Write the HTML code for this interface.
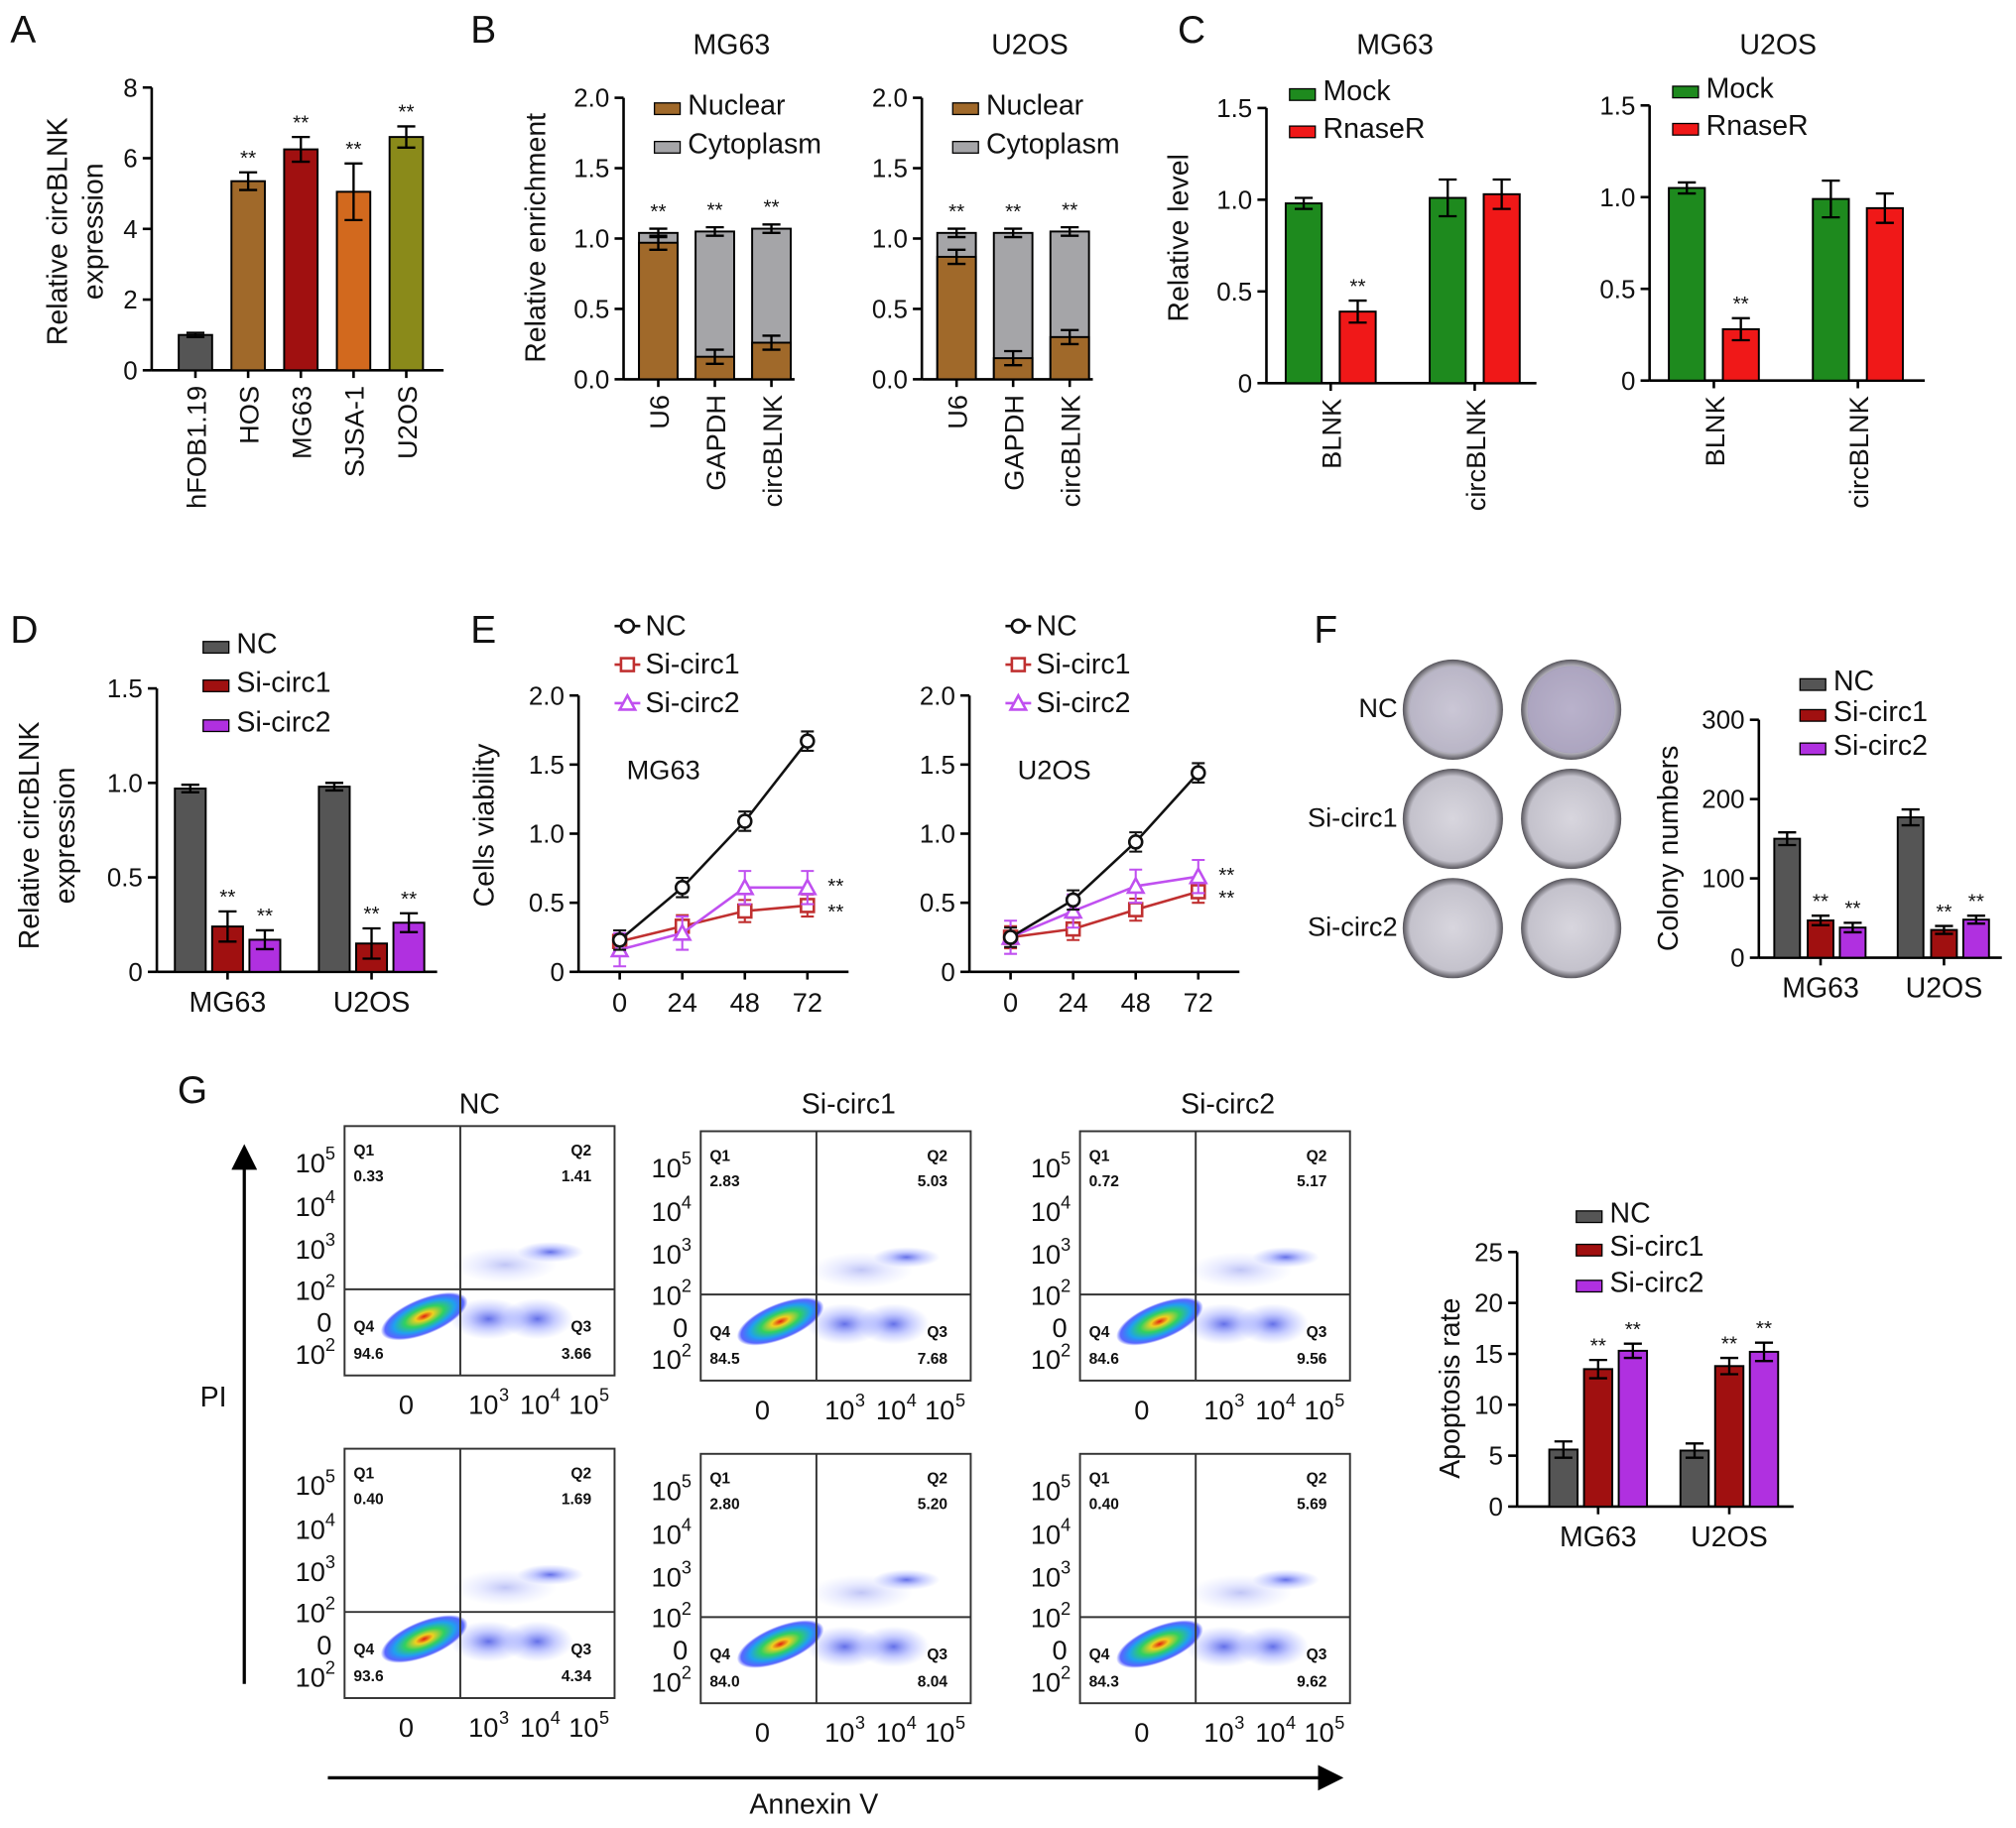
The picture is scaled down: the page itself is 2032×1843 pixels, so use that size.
<!DOCTYPE html>
<html><head><meta charset="utf-8"><style>
html,body{margin:0;padding:0;background:#fff;}
svg{display:block;font-family:"Liberation Sans",Arial,sans-serif;}
</style></head><body>
<svg id="fig" width="2032" height="1843" viewBox="0 0 1568 1422" xmlns="http://www.w3.org/2000/svg">
<defs>
<radialGradient id="blob" cx="50%" cy="50%" r="50%">
<stop offset="0" stop-color="#e02010"/><stop offset="0.2" stop-color="#f0d020"/><stop offset="0.45" stop-color="#30d060"/><stop offset="0.7" stop-color="#20a0f0"/><stop offset="0.9" stop-color="#3040ff" stop-opacity="0.8"/><stop offset="1" stop-color="#3040ff" stop-opacity="0"/>
</radialGradient>
<radialGradient id="faint" cx="50%" cy="50%" r="50%">
<stop offset="0" stop-color="#3040e0" stop-opacity="0.75"/><stop offset="0.5" stop-color="#6070ff" stop-opacity="0.35"/><stop offset="1" stop-color="#8090ff" stop-opacity="0"/>
</radialGradient>
<radialGradient id="dish" cx="50%" cy="50%" r="50%">
<stop offset="0" stop-color="#d8d6de"/><stop offset="0.85" stop-color="#c4c2cc"/><stop offset="0.93" stop-color="#8a8890"/><stop offset="1" stop-color="#55535a"/>
</radialGradient>
<marker id="arr" markerWidth="8" markerHeight="8" refX="4" refY="4" orient="auto" markerUnits="strokeWidth"><path d="M0,0 L8,4 L0,8 z" fill="#000"/></marker>
</defs>
</svg>
<script>
// ---------- DATA ----------
const aCats=["hFOB1.19","HOS","MG63","SJSA-1","U2OS"];
const aVals=[1.0,5.35,6.25,5.05,6.6];
const aErr=[0.06,0.25,0.35,0.8,0.3];
const bCats=["U6","GAPDH","circBLNK"];
const bMGNuc=[0.97,0.16,0.26];const bMGTot=[1.04,1.05,1.07];
const bUNuc=[0.87,0.15,0.30];const bUTot=[1.04,1.04,1.05];
const cCats=["BLNK","circBLNK"];
const cMGMock=[0.98,1.01];const cMGRn=[0.39,1.03];
const cUMock=[1.05,0.99];const cURn=[0.28,0.94];
const groups=["MG63","U2OS"];
const dNC=[0.97,0.98];const dS1=[0.24,0.15];const dS2=[0.17,0.26];
const eX=[0,24,48,72];
const eMGNC=[0.23,0.61,1.09,1.67];const eMGS1=[0.22,0.33,0.44,0.48];const eMGS2=[0.16,0.28,0.61,0.61];
const eUNC=[0.25,0.52,0.94,1.44];const eUS1=[0.25,0.31,0.45,0.58];const eUS2=[0.25,0.44,0.62,0.69];
const fNC=[150,177];const fS1=[47,35];const fS2=[38,48];
const gNC=[5.6,5.5];const gS1=[13.5,13.8];const gS2=[15.3,15.2];
const flowTitles=["NC","Si-circ1","Si-circ2"];
const flowQ=[[["0.33","1.41","94.6","3.66"],["2.83","5.03","84.5","7.68"],["0.72","5.17","84.6","9.56"]],
             [["0.40","1.69","93.6","4.34"],["2.80","5.20","84.0","8.04"],["0.40","5.69","84.3","9.62"]]];

// ---------- HELPERS ----------
const NS="http://www.w3.org/2000/svg";const svg=document.getElementById('fig');
function mk(tag,at,p){const e=document.createElementNS(NS,tag);for(const k in at)e.setAttribute(k,at[k]);(p||svg).appendChild(e);return e;}
function txt(s,x,y,size,anchor,p,extra){const e=mk('text',Object.assign({x:x,y:y,'font-size':size,'text-anchor':anchor||'middle',fill:'#111'},extra||{}),p);e.textContent=s;return e;}
function yAxis(g,x,y0,k,ticks,yTopV,fmt){
  mk('line',{x1:x,y1:y0,x2:x,y2:y0-yTopV*k,stroke:'#000','stroke-width':2},g);
  ticks.forEach(t=>{const y=y0-t*k;mk('line',{x1:x-7,y1:y,x2:x,y2:y,stroke:'#000','stroke-width':2},g);
    const l=txt(fmt?fmt(t):String(t),x-11,y+7,20,'end',g);});
}
function xLine(g,x1,x2,y){mk('line',{x1:x1,y1:y,x2:x2,y2:y,stroke:'#000','stroke-width':2},g);}
function bar(g,cx,w,y0,k,v,col,name){const b=mk('rect',{x:cx-w/2,y:y0-v*k,width:w,height:v*k,fill:col,stroke:'#000','stroke-width':1.5},g);
  return b;}
function err(g,cx,y0,k,v,e){const w=7;mk('path',{d:`M${cx},${y0-(v-e)*k}V${y0-(v+e)*k}M${cx-w},${y0-(v+e)*k}h${2*w}M${cx-w},${y0-(v-e)*k}h${2*w}`,stroke:'#000','stroke-width':1.8,fill:'none'},g);}
function star(g,cx,y){txt('**',cx,y,16,'middle',g);}
function legendBox(g,x,y,col,label,size){mk('rect',{x:x,y:y-9,width:20,height:9,fill:col,stroke:'#000','stroke-width':1},g);
  const t=txt(label,x+26,y,size||22,'start',g);}
function rotLabel(g,s,x,y,size,ang){const t=txt(s,x,y,size,'end',g,{transform:`rotate(${ang||-90} ${x} ${y})`});return t;}
function grp(name){const g=mk('g',{});return g;}
function letter(s,x,y){const t=txt(s,x,y,30,'start');}

// ---------- A ----------
letter('A',8,33);
(function(){const g=grp('panel-a-chart');const y0=288,k=27.5;
  yAxis(g,118,y0,k,[0,2,4,6,8],8);xLine(g,118,345,y0);
  const cols=['#555','#a0692a','#a01010','#d2691e','#8a8a1a'];
  aCats.forEach((c,i)=>{const cx=152+i*41;bar(g,cx,26,y0,k,aVals[i],cols[i],'bar-'+c);err(g,cx,y0,k,aVals[i],aErr[i]);
    if(i>0)star(g,cx,y0-(aVals[i]+aErr[i])*k-6);
    mk('line',{x1:cx,y1:y0,x2:cx,y2:y0+6,stroke:'#000','stroke-width':2},g);
    rotLabel(g,c,cx+8,y0+12,21);});
  txt('Relative circBLNK',0,0,22,'middle',g,{transform:'translate(52,180) rotate(-90)'});
  txt('expression',0,0,22,'middle',g,{transform:'translate(80,180) rotate(-90)'});
})();

// ---------- B ----------
letter('B',366,33);
function panelB(x0,nuc,tot,title){const g=grp('panel-b-'+title);const y0=295,k=109.5;
  yAxis(g,x0,y0,k,[0,0.5,1,1.5,2],2,t=>t.toFixed(1));xLine(g,x0,x0+133,y0);
  bCats.forEach((c,i)=>{const cx=x0+27+i*44;bar(g,cx,30,y0,k,tot[i],'#a5a5a8','bar-cytoplasm-'+c);
    bar(g,cx,30,y0,k,nuc[i],'#a0692a','bar-nuclear-'+c);
    err(g,cx,y0,k,tot[i],0.03);err(g,cx,y0,k,nuc[i],0.05);star(g,cx,y0-(tot[i]+0.05)*k-6);
    mk('line',{x1:cx,y1:y0,x2:cx,y2:y0+6,stroke:'#000','stroke-width':2},g);rotLabel(g,c,cx+8,y0+12,21);});
  txt(title,x0+84,42,22,'middle',g);
  legendBox(g,x0+24,89,'#a0692a','Nuclear');legendBox(g,x0+24,119,'#a5a5a8','Cytoplasm');}
panelB(485,bMGNuc,bMGTot,'MG63');panelB(717,bUNuc,bUTot,'U2OS');
txt('Relative enrichment',0,0,22,'middle',svg,{transform:'translate(424,185) rotate(-90)'});

// ---------- C ----------
letter('C',916,33);
function panelC(x0,y0,mock,rn,title,ly,x1){const g=grp('panel-c-'+title);const k=142.7;
  yAxis(g,x0,y0,k,[0,0.5,1,1.5],1.5,t=>t===0?'0':t.toFixed(1));xLine(g,x0,x1,y0);
  cCats.forEach((c,i)=>{const cx=x0+50+i*112;bar(g,cx-21,28,y0,k,mock[i],'#1e8a1e','bar-mock-'+c);bar(g,cx+21,28,y0,k,rn[i],'#f01818','bar-rnaser-'+c);
    err(g,cx-21,y0,k,mock[i],i?0.1:0.03);err(g,cx+21,y0,k,rn[i],i?0.08:0.06);
    if(i===0)star(g,cx+21,y0-(rn[i]+0.06)*k-6);
    mk('line',{x1:cx,y1:y0,x2:cx,y2:y0+6,stroke:'#000','stroke-width':2},g);rotLabel(g,c,cx+8,y0+12,21);});
  txt(title,x0+100,42,22,'middle',g);
  legendBox(g,x0+18,ly,'#1e8a1e','Mock');legendBox(g,x0+18,ly+29,'#f01818','RnaseR');}
panelC(985,298,cMGMock,cMGRn,'MG63',78,1195);panelC(1283,296,cUMock,cURn,'U2OS',76,1497);
txt('Relative level',0,0,22,'middle',svg,{transform:'translate(924,185) rotate(-90)'});

// ---------- D ----------
letter('D',8,500);
(function(){const g=grp('panel-d-chart');const y0=756,k=147;
  yAxis(g,122,y0,k,[0,0.5,1,1.5],1.5,t=>t===0?'0':t.toFixed(1));xLine(g,122,340,y0);
  const e1=[0.02,0.02],e2=[0.08,0.08],e3=[0.05,0.05];
  groups.forEach((c,i)=>{const cx=177+i*112;
    bar(g,cx-29,24,y0,k,dNC[i],'#555','bar-nc-'+c);bar(g,cx,24,y0,k,dS1[i],'#a01010','bar-si1-'+c);bar(g,cx+29,24,y0,k,dS2[i],'#b030e0','bar-si2-'+c);
    err(g,cx-29,y0,k,dNC[i],e1[i]);err(g,cx,y0,k,dS1[i],e2[i]);err(g,cx+29,y0,k,dS2[i],e3[i]);
    star(g,cx,y0-(dS1[i]+e2[i])*k-6);star(g,cx+29,y0-(dS2[i]+e3[i])*k-6);
    mk('line',{x1:cx,y1:y0,x2:cx,y2:y0+6,stroke:'#000','stroke-width':2},g);txt(c,cx,y0+31,22,'middle',g);});
  legendBox(g,158,508,'#555','NC');legendBox(g,158,538,'#a01010','Si-circ1');legendBox(g,158,569,'#b030e0','Si-circ2');
  txt('Relative circBLNK',0,0,22,'middle',g,{transform:'translate(30,650) rotate(-90)'});
  txt('expression',0,0,22,'middle',g,{transform:'translate(58,650) rotate(-90)'});
})();

// ---------- E ----------
letter('E',366,500);
function panelE(ax,x0,nc,s1,s2,title){const g=grp('panel-e-'+title);const y0=756,k=107.5,kx=146/72;
  yAxis(g,ax,y0,k,[0,0.5,1,1.5,2],2,t=>t===0?'0':t.toFixed(1));xLine(g,ax,ax+210,y0);
  const X=v=>x0+v*kx,Y=v=>y0-v*k;
  eX.forEach(t=>{mk('line',{x1:X(t),y1:y0,x2:X(t),y2:y0+6,stroke:'#000','stroke-width':2},g);const l=txt(String(t),X(t),y0+31,21,'middle',g);});
  const series=[[s1,'#c03030','sq',0.08],[s2,'#c050f0','tri',0.12],[nc,'#111','circ',0.07]];
  series.forEach(([d,col,m,e])=>{const pl=mk('polyline',{points:d.map((v,i)=>X(eX[i])+','+Y(v)).join(' '),fill:'none',stroke:col,'stroke-width':2},g);
    
    d.forEach((v,i)=>{const cx=X(eX[i]),cy=Y(v);mk('path',{d:`M${cx},${Y(v-e)}V${Y(v+e)}M${cx-5},${Y(v+e)}h10M${cx-5},${Y(v-e)}h10`,stroke:col,'stroke-width':1.6},g);
      let mm;if(m==='sq')mm=mk('rect',{x:cx-5,y:cy-5,width:10,height:10,fill:'#fff',stroke:col,'stroke-width':2},g);
      else if(m==='tri')mm=mk('path',{d:`M${cx},${cy-6}L${cx+6},${cy+5}L${cx-6},${cy+5}Z`,fill:'#fff',stroke:col,'stroke-width':2},g);
      else mm=mk('circle',{cx:cx,cy:cy,r:5,fill:'#fff',stroke:col,'stroke-width':2},g);
      });});
  star(g,X(72)+22,Y(Math.max(s1[3],s2[3]))+4);star(g,X(72)+22,Y(Math.min(s1[3],s2[3]))+10);
  txt(title,x0+34,y0-150,21,'middle',g);
  const lx=ax+28;
  [['NC','#111','circ',494],['Si-circ1','#c03030','sq',524],['Si-circ2','#c050f0','tri',554]].forEach(([n,col,m,y])=>{
    mk('line',{x1:lx,y1:y-7,x2:lx+20,y2:y-7,stroke:col,'stroke-width':2},g);
    if(m==='sq')mk('rect',{x:lx+5,y:y-12,width:10,height:10,fill:'#fff',stroke:col,'stroke-width':2},g);
    else if(m==='tri')mk('path',{d:`M${lx+10},${y-13}L${lx+16},${y-2}L${lx+4},${y-2}Z`,fill:'#fff',stroke:col,'stroke-width':2},g);
    else mk('circle',{cx:lx+10,cy:y-7,r:5,fill:'#fff',stroke:col,'stroke-width':2},g);
    const t=txt(n,lx+24,y,22,'start',g);});}
panelE(450,482,eMGNC,eMGS1,eMGS2,'MG63');panelE(754,786,eUNC,eUS1,eUS2,'U2OS');
txt('Cells viability',0,0,22,'middle',svg,{transform:'translate(384,642) rotate(-90)'});

// ---------- F ----------
letter('F',1022,500);
(function(){const g=grp('panel-f-dishes');
  ['NC','Si-circ1','Si-circ2'].forEach((n,r)=>{const t=txt(n,1087,558+r*85,21,'end',g);
    [1130,1222].forEach((cx,c)=>{const d=mk('circle',{cx:cx,cy:552+r*85,r:39,fill:'url(#dish)'},g);
      if(r===0)mk('circle',{cx:cx,cy:552,r:34,fill:'#8070a8',opacity:c?0.35:0.15},g);});});
  const b=grp('panel-f-chart');const y0=745,k=0.617;
  yAxis(b,1368,y0,k,[0,100,200,300],300);xLine(b,1368,1557,y0);
  const e1=[8,10],e2=[6,5],e3=[6,5];
  groups.forEach((c,i)=>{const cx=1416+i*96;
    bar(b,cx-26,20,y0,k,fNC[i],'#555','bar-nc-'+c);bar(b,cx,20,y0,k,fS1[i],'#a01010','bar-si1-'+c);bar(b,cx+25,20,y0,k,fS2[i],'#b030e0','bar-si2-'+c);
    err(b,cx-26,y0,k,fNC[i],e1[i]);err(b,cx,y0,k,fS1[i],e2[i]);err(b,cx+25,y0,k,fS2[i],e3[i]);
    star(b,cx,y0-(fS1[i]+e2[i])*k-6);star(b,cx+25,y0-(fS2[i]+e3[i])*k-6);
    mk('line',{x1:cx,y1:y0,x2:cx,y2:y0+6,stroke:'#000','stroke-width':2},b);txt(c,cx,y0+31,22,'middle',b);});
  legendBox(b,1400,537,'#555','NC');legendBox(b,1400,561,'#a01010','Si-circ1');legendBox(b,1400,587,'#b030e0','Si-circ2');
  txt('Colony numbers',0,0,22,'middle',b,{transform:'translate(1305,660) rotate(-90)'});
})();

// ---------- G ----------
letter('G',138,858);
(function(){const g=grp('panel-g-flow');
  const cols=[268,545,840],rows=[876,1127];const W=210,H=194;
  flowTitles.forEach((t,c)=>txt(t,cols[c]+W/2+(c?10:0),866,22,'middle',g));
  rows.forEach((ry,r)=>cols.forEach((cx0,c)=>{const q=flowQ[r][c];const x=cx0,y=ry+(c?4:0);
    const box=mk('rect',{x:x,y:y,width:W,height:H,fill:'#fff',stroke:'#333','stroke-width':1.5},g);
    
    const vx=x+90,hy=y+127;
    mk('ellipse',{cx:x+160,cy:y+98,rx:26,ry:8,fill:'url(#faint)'},g);
    mk('ellipse',{cx:x+125,cy:y+108,rx:40,ry:14,fill:'url(#faint)',opacity:0.4},g);
    mk('ellipse',{cx:x+112,cy:y+150,rx:30,ry:16,fill:'url(#faint)'},g);
    mk('ellipse',{cx:x+150,cy:y+150,rx:28,ry:16,fill:'url(#faint)'},g);
    mk('ellipse',{cx:x+62,cy:y+148,rx:36,ry:14,fill:'url(#blob)',transform:`rotate(-22 ${x+62} ${y+148})`},g);
    mk('line',{x1:vx,y1:y,x2:vx,y2:y+H,stroke:'#333','stroke-width':1.5},g);
    mk('line',{x1:x,y1:hy,x2:x+W,y2:hy,stroke:'#333','stroke-width':1.5},g);
    const f={'font-weight':'bold'};
    txt('Q1',x+7,y+23,12,'start',g,f);txt(q[0],x+7,y+43,12,'start',g,f);
    txt('Q2',x+W-18,y+23,12,'end',g,f);txt(q[1],x+W-18,y+43,12,'end',g,f);
    txt('Q4',x+7,y+160,12,'start',g,f);txt(q[2],x+7,y+181,12,'start',g,f);
    txt('Q3',x+W-18,y+160,12,'end',g,f);txt(q[3],x+W-18,y+181,12,'end',g,f);
    const ly=[[28,'5'],[62,'4'],[95,'3'],[127,'2'],[null,'0'],[177,'2']];
    ly.forEach(([yy,e])=>{if(e==='0'){txt('0',x-10,y+160,21,'end',g);return;}
      txt('10',x-15,y+yy+8,21,'end',g);txt(e,x-15,y+yy-2,14,'start',g);});
    txt('0',x+48,y+H+30,21,'middle',g);
    [[112,'3'],[152,'4'],[190,'5']].forEach(([xx,e])=>{txt('10',x+xx-4,y+H+30,21,'middle',g);txt(e,x+xx+12,y+H+20,14,'middle',g);});
  }));
  mk('line',{x1:190,y1:1310,x2:190,y2:900,stroke:'#000','stroke-width':2.5,'marker-end':'url(#arr)'},g);
  mk('line',{x1:255,y1:1383,x2:1035,y2:1383,stroke:'#000','stroke-width':2.5,'marker-end':'url(#arr)'},g);
  txt('PI',166,1094,22,'middle',g);txt('Annexin V',633,1411,22,'middle',g);
  const b=grp('panel-g-chart');const y0=1172,k=7.92;
  yAxis(b,1180,y0,k,[0,5,10,15,20,25],25);xLine(b,1180,1395,y0);
  const e1=[0.8,0.7],e2=[0.9,0.8],e3=[0.7,0.9];
  groups.forEach((c,i)=>{const cx=1243+i*102;
    bar(b,cx-27,22,y0,k,gNC[i],'#555','bar-nc-'+c);bar(b,cx,22,y0,k,gS1[i],'#a01010','bar-si1-'+c);bar(b,cx+27,22,y0,k,gS2[i],'#b030e0','bar-si2-'+c);
    err(b,cx-27,y0,k,gNC[i],e1[i]);err(b,cx,y0,k,gS1[i],e2[i]);err(b,cx+27,y0,k,gS2[i],e3[i]);
    star(b,cx,y0-(gS1[i]+e2[i])*k-6);star(b,cx+27,y0-(gS2[i]+e3[i])*k-6);
    mk('line',{x1:cx,y1:y0,x2:cx,y2:y0+6,stroke:'#000','stroke-width':2},b);txt(c,cx,y0+31,22,'middle',b);});
  legendBox(b,1226,951,'#555','NC');legendBox(b,1226,977,'#a01010','Si-circ1');legendBox(b,1226,1005,'#b030e0','Si-circ2');
  txt('Apoptosis rate',0,0,22,'middle',b,{transform:'translate(1135,1080) rotate(-90)'});
})();
</script>
</body></html>
